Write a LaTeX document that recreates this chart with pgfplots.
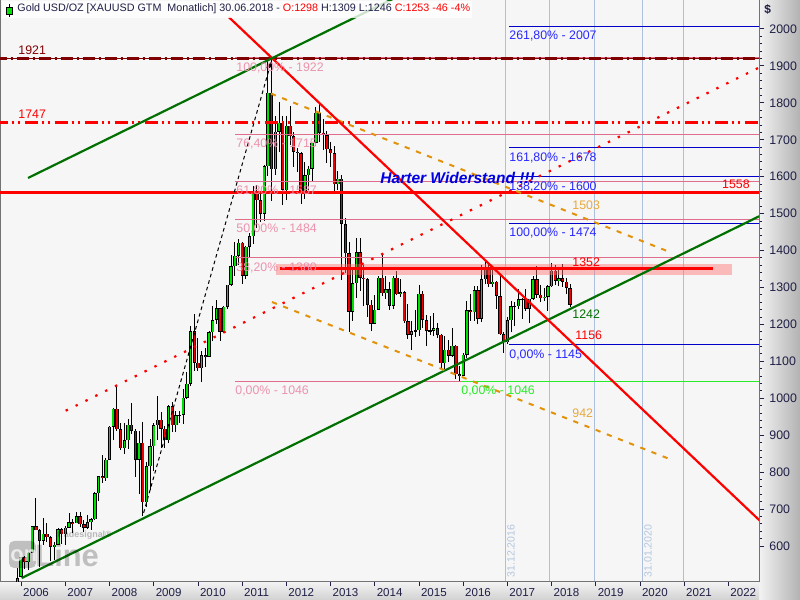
\documentclass[border=0pt]{standalone}
\usepackage{pgfplots}
\pgfplotsset{compat=1.18}
\usepackage{pgfplotstable}
\usetikzlibrary{arrows.meta}
\usepackage{fontspec}
\setmainfont{Liberation Sans}
\definecolor{bgc}{RGB}{246,246,246}
\definecolor{cgreen}{RGB}{0,224,0}
\definecolor{cred}{RGB}{238,0,0}
\definecolor{dred}{RGB}{128,0,0}
\definecolor{tgreen}{RGB}{0,112,0}
\definecolor{orng}{RGB}{226,146,10}
\definecolor{lorng}{RGB}{232,168,60}
\definecolor{fpink}{RGB}{222,110,140}
\definecolor{lpink}{RGB}{236,146,172}
\definecolor{fblue}{RGB}{0,0,200}
\definecolor{lblue}{RGB}{40,40,255}
\definecolor{gridb}{RGB}{172,192,220}
\definecolor{vtext}{RGB}{180,198,224}
\definecolor{navy}{RGB}{30,30,70}
\definecolor{lgreen}{RGB}{40,236,40}
\definecolor{hblue}{RGB}{0,0,225}
\newcommand\fl{\fontsize{6.2}{7}\selectfont}

\pgfplotstableread{
o h l c
495 541 489 513
517 570 515 569
569 573 538 556
556 584 536 582
582 654 581 654
654 730 645 643
643 645 543 614
614 676 604 633
633 663 612 624
624 627 560 598
598 611 561 604
604 648 603 646
646 650 605 632
632 655 603 650
650 690 648 665
665 674 636 662
662 692 661 680
680 693 651 659
659 671 637 650
650 684 645 665
665 676 643 673
673 745 670 743
743 790 722 789
789 847 770 783
783 838 777 834
834 926 834 923
923 975 887 972
972 1032 912 916
916 932 861 865
865 934 850 886
886 945 862 928
928 988 903 912
912 918 786 834
834 912 741 880
880 936 681 718
718 828 705 816
816 889 751 870
870 933 802 927
927 1006 888 942
942 964 866 917
917 924 865 887
887 981 878 979
979 989 909 927
927 965 908 954
954 965 932 955
955 1025 931 1001
1001 1071 999 1040
1040 1195 1033 1182
1182 1227 1074 1096
1096 1162 1073 1081
1081 1128 1044 1116
1116 1136 1086 1113
1113 1182 1111 1179
1179 1249 1155 1212
1212 1265 1201 1244
1244 1245 1155 1180
1180 1251 1178 1248
1248 1308 1241 1307
1307 1388 1305 1357
1357 1424 1330 1386
1386 1432 1360 1421
1421 1423 1309 1332
1332 1413 1324 1410
1410 1448 1381 1439
1439 1576 1417 1556
1556 1578 1462 1536
1536 1555 1478 1500
1500 1632 1479 1628
1628 1913 1602 1828
1828 1921 1535 1620
1620 1764 1604 1722
1722 1803 1666 1746
1746 1764 1523 1564
1564 1764 1538 1738
1738 1791 1686 1709
1709 1721 1627 1668
1668 1677 1613 1664
1664 1668 1527 1561
1561 1640 1540 1604
1604 1630 1564 1622
1622 1692 1588 1692
1692 1790 1684 1773
1773 1796 1693 1719
1719 1755 1673 1713
1713 1724 1636 1675
1675 1695 1626 1663
1663 1683 1555 1579
1579 1616 1563 1595
1595 1604 1321 1472
1472 1487 1338 1393
1393 1424 1180 1234
1234 1348 1208 1312
1312 1433 1271 1396
1396 1434 1291 1327
1327 1361 1251 1323
1323 1325 1221 1253
1253 1267 1182 1202
1202 1279 1200 1240
1240 1332 1238 1326
1326 1392 1277 1284
1284 1332 1268 1295
1295 1315 1240 1250
1250 1332 1241 1327
1327 1345 1281 1282
1282 1322 1273 1287
1287 1291 1205 1209
1209 1256 1160 1172
1172 1209 1132 1182
1182 1238 1167 1184
1184 1307 1168 1283
1283 1290 1190 1212
1212 1225 1142 1183
1183 1224 1172 1183
1183 1232 1169 1190
1190 1205 1162 1172
1172 1175 1077 1095
1095 1170 1080 1132
1132 1157 1098 1115
1115 1191 1113 1142
1142 1143 1053 1065
1065 1088 1046 1061
1061 1124 1060 1118
1118 1263 1108 1238
1238 1283 1208 1233
1233 1304 1208 1293
1293 1304 1200 1215
1215 1362 1207 1322
1322 1375 1310 1351
1351 1367 1301 1309
1309 1352 1302 1316
1316 1318 1241 1277
1277 1337 1171 1173
1173 1180 1123 1152
1152 1220 1146 1211
1211 1264 1180 1249
1249 1262 1195 1249
1249 1295 1242 1268
1268 1271 1214 1269
1269 1296 1236 1242
1242 1270 1205 1269
1269 1331 1267 1322
1322 1357 1271 1280
1280 1306 1260 1271
1271 1299 1264 1275
1275 1307 1236 1303
1303 1366 1302 1345
1345 1362 1307 1318
1318 1356 1303 1325
1325 1365 1302 1316
1316 1326 1282 1299
1298 1309 1246 1253
}\gold

\begin{document}
\begin{tikzpicture}
\useasboundingbox (0,0) rectangle (400bp,300bp);
\shade[left color=white!95!black, right color=white!70!black] (379.5bp,0) rectangle (400bp,300bp);
\shade[top color=white!96!black, bottom color=white!82!black] (0,0) rectangle (379.5bp,9.5bp);
\begin{axis}[
  at={(0,9.5bp)}, anchor=south west,
  scale only axis, width=379.5bp, height=290.5bp,
  xmin=2005.5204, xmax=2022.692, ymin=505.3, ymax=2078.53,
  axis background/.style={fill=bgc},
  axis line style={draw=black!55, line width=0.5bp},
  xtick={2006,2007,2008,2009,2010,2011,2012,2013,2014,2015,2016,2017,2018,2019,2020,2021,2022},
  xticklabels={2006,2007,2008,2009,2010,2011,2012,2013,2014,2015,2016,2017,2018,2019,2020,2021,2022},
  ytick={600,700,800,900,1000,1100,1200,1300,1400,1500,1600,1700,1800,1900,2000},
  yticklabels={600,700,800,900,1000,1100,1200,1300,1400,1500,1600,1700,1800,1900,2000},
  xtick pos=bottom, ytick pos=right, yticklabel pos=right,
  minor y tick num=4,
  tick align=outside,
  major tick length=2.5bp, minor tick length=1.5bp,
  tick style={draw=navy, line width=0.5bp},
  yticklabel style={font=\fl, text=navy, anchor=west, inner sep=0pt, xshift=2.5bp},
  xticklabel style={font=\fontsize{5.8}{6.5}\selectfont, text=navy, anchor=north west, inner sep=0pt, xshift=0.8bp, yshift=-1bp},
  unbounded coords=discard,
]
% vertical grid
\addplot[gridb, line width=0.5bp, forget plot] coordinates {(2016.962,505.3) (2016.962,2078.53)};
\addplot[gridb, line width=0.5bp, forget plot] coordinates {(2017.948,505.3) (2017.948,2078.53)};
\addplot[gridb, line width=0.5bp, forget plot] coordinates {(2018.966,505.3) (2018.966,2078.53)};
\addplot[gridb, line width=0.5bp, forget plot] coordinates {(2020.052,505.3) (2020.052,2078.53)};
\addplot[gridb, line width=0.5bp, forget plot] coordinates {(2020.979,505.3) (2020.979,2078.53)};
\node[rotate=90, anchor=west, inner sep=0pt, text=vtext, font=\fontsize{5.3}{6}\selectfont] at (axis cs:2017.08,514) {31.12.2016};
\node[rotate=90, anchor=west, inner sep=0pt, text=vtext, font=\fontsize{5.3}{6}\selectfont] at (axis cs:2020.18,514) {31.01.2020};

% candles: wicks
\addplot[draw=none, forget plot, error bars/.cd, y dir=both, y explicit, error mark=none,
  error bar style={draw=black, line width=0.5bp}]
  table[x expr=2005.916667+\coordindex/12, y expr=(\thisrow{h}+\thisrow{l})/2, y error expr=(\thisrow{h}-\thisrow{l})/2]{\gold};
% bodies outline
\addplot[draw=none, forget plot, error bars/.cd, y dir=both, y explicit, error mark=none,
  error bar style={draw=black, line width=1.7bp}]
  table[x expr=2005.916667+\coordindex/12, y expr=(\thisrow{o}+\thisrow{c})/2, y error expr={max(abs(\thisrow{c}-\thisrow{o})/2,1)}]{\gold};
% up bodies
\addplot[draw=none, forget plot, error bars/.cd, y dir=both, y explicit, error mark=none,
  error bar style={draw=cgreen, line width=0.8bp}]
  table[x expr=2005.916667+\coordindex/12, y expr={\thisrow{c}>\thisrow{o} ? (\thisrow{o}+\thisrow{c})/2 : nan}, y error expr={max(abs(\thisrow{c}-\thisrow{o})/2-1.4,0)}]{\gold};
% down bodies
\addplot[draw=none, forget plot, error bars/.cd, y dir=both, y explicit, error mark=none,
  error bar style={draw=cred, line width=0.8bp}]
  table[x expr=2005.916667+\coordindex/12, y expr={\thisrow{c}<\thisrow{o} ? (\thisrow{o}+\thisrow{c})/2 : nan}, y error expr={max(abs(\thisrow{c}-\thisrow{o})/2-1.4,0)}]{\gold};

% resistance zone
\addplot[fill=red!55, draw=none, opacity=0.45, forget plot] coordinates {(2011.765,1334) (2022.081,1334) (2022.081,1363) (2011.765,1363)} -- cycle;

% pink fibonacci
\addplot[fpink, line width=0.5bp, forget plot] coordinates {(2010.837,1922) (2022.8,1922)};
\addplot[fpink, line width=0.5bp, forget plot] coordinates {(2010.837,1715) (2022.8,1715)};
\addplot[fpink, line width=0.5bp, forget plot] coordinates {(2010.837,1587) (2022.8,1587)};
\addplot[fpink, line width=0.5bp, forget plot] coordinates {(2010.837,1484) (2022.8,1484)};
\addplot[fpink, line width=0.5bp, forget plot] coordinates {(2010.837,1380) (2022.8,1380)};
\addplot[fpink, line width=0.5bp, forget plot] coordinates {(2010.837,1046) (2015.944,1046)};
\addplot[lgreen, line width=0.55bp, forget plot] coordinates {(2015.944,1046) (2022.8,1046)};
% blue fibonacci
\addplot[fblue, line width=0.55bp, forget plot] coordinates {(2017.036,2007) (2022.8,2007)};
\addplot[fblue, line width=0.55bp, forget plot] coordinates {(2017.036,1678) (2022.8,1678)};
\addplot[fblue, line width=0.55bp, forget plot] coordinates {(2017.036,1600) (2022.8,1600)};
\addplot[fblue, line width=0.55bp, forget plot] coordinates {(2017.036,1474) (2022.8,1474)};
\addplot[fblue, line width=0.55bp, forget plot] coordinates {(2017.036,1145) (2022.8,1145)};

% horizontal levels
\addplot[dred, line width=0.5bp, forget plot] coordinates {(2005.4,1921) (2022.8,1921)};
\addplot[dred, line width=1.4bp, dash pattern=on 6bp off 2bp on 1bp off 2bp, forget plot] coordinates {(2005.4,1921) (2022.8,1921)};
\addplot[red, line width=1.2bp, dash pattern=on 6.5bp off 2bp on 1bp off 2bp on 1bp off 2.5bp, forget plot] coordinates {(2005.4,1747) (2022.8,1747)};
\addplot[red, line width=1.6bp, forget plot] coordinates {(2005.4,1558) (2022.8,1558)};
\addplot[red, line width=1.7bp, forget plot] coordinates {(2011.855,1352) (2021.652,1352)};

% trend lines
\addplot[tgreen, line width=1.1bp, forget plot] coordinates {(2006.011,513.3) (2022.8,1499)};
\addplot[red, line width=1.1bp, dash pattern=on 1.2bp off 4.3bp, forget plot] coordinates {(2007.007,966.4) (2022.8,1902)};
\addplot[orng, line width=1bp, dash pattern=on 2.6bp off 3.4bp, forget plot] coordinates {(2011.65,1825) (2020.61,1399)};
\addplot[orng, line width=1bp, dash pattern=on 2.6bp off 3.4bp, forget plot] coordinates {(2011.674,1260.7) (2020.724,833)};
\addplot[black, line width=0.5bp, dash pattern=on 1.8bp off 1.6bp, -{Stealth[length=4bp,width=3.4bp]}, forget plot] coordinates {(2008.77,690) (2011.66,1913)};
\addplot[red, line width=1.1bp, forget plot] coordinates {(2010.70,2031.8) (2022.8,658.5)};
\addplot[tgreen, line width=1.1bp, forget plot] coordinates {(2006.154,1596.6) (2015,2116.3)};

% fibonacci labels
\node[anchor=north west, inner sep=0pt, text=lpink, font=\fl, yshift=-2.2bp] at (axis cs:2010.860,1922) {100,00\% - 1922};
\node[anchor=north west, inner sep=0pt, text=lpink, font=\fl, yshift=-2.2bp] at (axis cs:2010.860,1715) {76,40\% - 1715};
\node[anchor=north west, inner sep=0pt, text=lpink, font=\fl, yshift=-2.2bp] at (axis cs:2010.860,1587) {61,80\% - 1587};
\node[anchor=north west, inner sep=0pt, text=lpink, font=\fl, yshift=-2.2bp] at (axis cs:2010.860,1484) {50,00\% - 1484};
\node[anchor=north west, inner sep=0pt, text=lpink, font=\fl, yshift=-2.2bp] at (axis cs:2010.860,1380) {38,20\% - 1380};
\node[anchor=north west, inner sep=0pt, text=lpink, font=\fl, yshift=-2.2bp] at (axis cs:2010.837,1046) {0,00\% - 1046};
\node[anchor=north west, inner sep=0pt, text=lgreen, font=\fl, yshift=-2.2bp] at (axis cs:2015.95,1046) {0,00\% - 1046};
\node[anchor=north west, inner sep=0pt, text=lblue, font=\fl, yshift=-2.2bp] at (axis cs:2017.036,2007) {261,80\% - 2007};
\node[anchor=north west, inner sep=0pt, text=lblue, font=\fl, yshift=-2.2bp] at (axis cs:2017.036,1678) {161,80\% - 1678};
\node[anchor=north west, inner sep=0pt, text=lblue, font=\fl, yshift=-2.2bp] at (axis cs:2017.036,1600) {138,20\% - 1600};
\node[anchor=north west, inner sep=0pt, text=lblue, font=\fl, yshift=-2.2bp] at (axis cs:2017.036,1474) {100,00\% - 1474};
\node[anchor=north west, inner sep=0pt, text=lblue, font=\fl, yshift=-2.2bp] at (axis cs:2017.036,1145) {0,00\% - 1145};

% value labels
\node[anchor=west, inner sep=0pt, text=dred, font=\fl] at (axis cs:2005.928,1943) {1921};
\node[anchor=west, inner sep=0pt, text=red, font=\fl] at (axis cs:2005.928,1770) {1747};
\node[anchor=east, inner sep=0pt, text=red, font=\fl] at (axis cs:2022.489,1580) {1558};
\node[anchor=west, inner sep=0pt, text=lorng, font=\fl] at (axis cs:2018.462,1523) {1503};
\node[anchor=west, inner sep=0pt, text=lorng, font=\fl] at (axis cs:2018.462,960) {942};
\node[anchor=west, inner sep=0pt, text=red, font=\fl] at (axis cs:2018.462,1369) {1352};
\node[anchor=west, inner sep=0pt, text=tgreen, font=\fl] at (axis cs:2018.462,1228) {1242};
\node[anchor=west, inner sep=0pt, text=red, font=\fl] at (axis cs:2018.53,1171) {1156};
\node[anchor=west, inner sep=0pt, text=hblue, font=\fontsize{7.8}{9}\selectfont\bfseries\itshape] at (axis cs:2014.118,1596.5) {Harter Widerstand !!!};
\end{axis}
% watermark logo
\fill[black, opacity=0.22, rounded corners=2.5bp] (4.5bp,16bp) rectangle (18bp,29.5bp);
\node[anchor=west, inner sep=0pt, text=white, opacity=0.7, font=\fontsize{11}{12}\selectfont\bfseries] at (5bp,22bp) {on};
\node[anchor=west, inner sep=0pt, text=black, opacity=0.22, font=\fontsize{15.5}{16}\selectfont\bfseries] at (17.5bp,22.3bp) {Line};
\node[anchor=west, inner sep=0pt, text=black, opacity=0.25, font=\fontsize{4.5}{5}\selectfont\bfseries] at (28.5bp,32.5bp) {tradesignal®};
% title bar
\fill[white, opacity=0.8] (1bp,291bp) rectangle (236bp,299.5bp);
\draw[black, line width=0.5bp] (4.75bp,291.7bp) -- (4.75bp,298.2bp);
\filldraw[fill=cgreen, draw=black, line width=0.4bp] (3.4bp,293bp) rectangle (6.1bp,296.4bp);
\node[anchor=west, inner sep=0pt, font=\fontsize{5.4}{6.5}\selectfont] at (8.5bp,295.5bp) {\textcolor{navy}{Gold USD/OZ [XAUUSD GTM\ \ Monatlich] 30.06.2018 - }\textcolor{red}{O:1298} \textcolor{navy}{H:1309 L:1246} \textcolor{red}{C:1253 -46 -4\%}};
\node[anchor=west, inner sep=0pt, text=navy, font=\fontsize{6}{7}\selectfont\bfseries] at (382bp,295bp) {\$};
\end{tikzpicture}
\end{document}
